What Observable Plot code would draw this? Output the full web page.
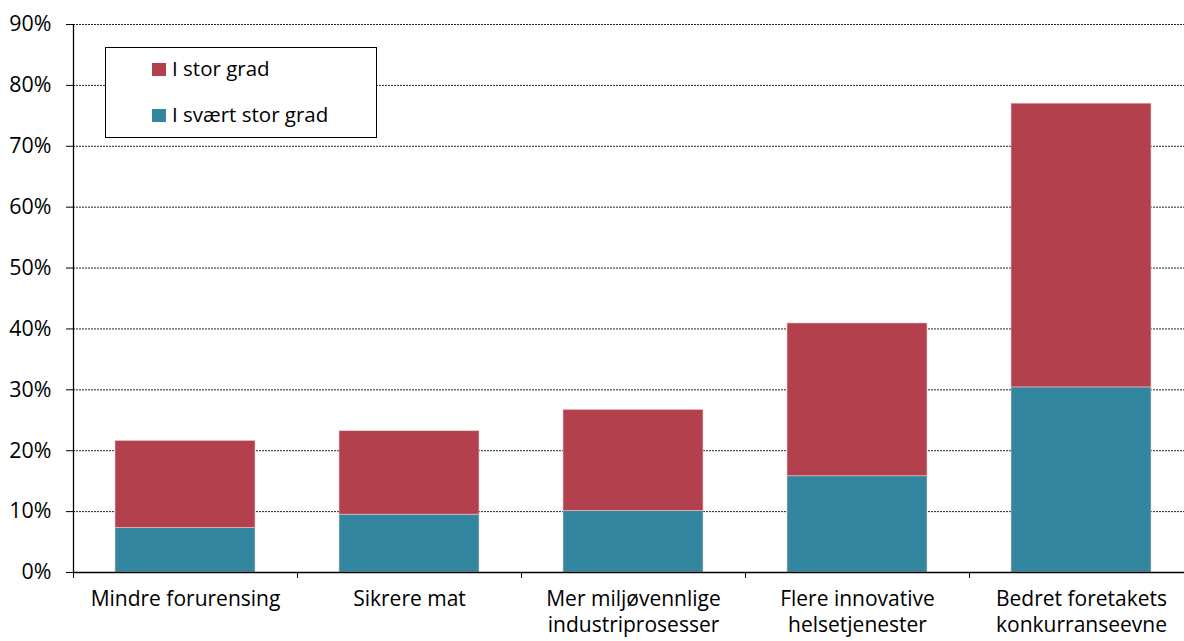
<!DOCTYPE html>
<html>
<head>
<meta charset="utf-8">
<script src="https://cdn.jsdelivr.net/npm/d3@7"></script>
<script src="https://cdn.jsdelivr.net/npm/@observablehq/plot@0.6"></script>
<style>
  html, body { margin: 0; padding: 0; background: #fff; overflow: hidden; }
  #wrap { position: relative; width: 1184px; height: 641px; overflow: hidden; }
  #wrap svg { max-width: none !important; display: block; }
  #legend {
    position: absolute; left: 105px; top: 47px; width: 272px; height: 91px;
    border: 1px solid #000; background: #fff; box-sizing: border-box;
    font-family: "Open Sans", sans-serif; font-size: 20.5px; color: #000;
  }
  .lt { position: absolute; left: 66px; line-height: 20.5px; white-space: nowrap; }
  .sw { position: absolute; left: 46px; width: 14px; height: 13px; }
</style>
</head>
<body>
<div id="wrap"></div>
<script>
const categories = ["Mindre forurensing", "Sikrere mat", "Mer miljøvennlige\nindustriprosesser", "Flere innovative\nhelsetjenester", "Bedret foretakets\nkonkurranseevne"];
const series = ["I svært stor grad", "I stor grad"];
const sværtStor = [7.3, 9.5, 10.1, 15.8, 30.4];
const stor = [14.3, 13.7, 16.6, 25.1, 46.6];
const colors = ["#32869d", "#b2414d"];
const yTicks = [0, 10, 20, 30, 40, 50, 60, 70, 80, 90];

const data = [];
categories.forEach((c, i) => {
  data.push({cat: c, series: series[0], value: sværtStor[i]});
  data.push({cat: c, series: series[1], value: stor[i]});
});

const W = 1193, H = 641, mL = 73, mR = 0, mT = 24, mB = 69;
const half = (W - mL - mR) / categories.length / 2;
const FS = 21.4, FSX = 21;

const chart = Plot.plot({
  width: W, height: H,
  marginLeft: mL, marginRight: mR, marginTop: mT, marginBottom: mB,
  style: {fontFamily: "'Open Sans', sans-serif", fontSize: FS + "px", color: "#000", background: "#fff", maxWidth: "none"},
  x: {domain: categories, paddingInner: 0, paddingOuter: 0, label: null},
  y: {domain: [0, 90], label: null},
  color: {domain: series, range: colors},
  marks: [
    Plot.ruleY(yTicks.filter(d => d > 0), {stroke: "#222", strokeWidth: 1, strokeDasharray: "2,1"}),
    Plot.barY(data, Plot.stackY({x: "cat", y: "value", fill: "series", order: series, stroke: "#f0c8cc", strokeWidth: 0.6, insetLeft: 42, insetRight: 42})),
    Plot.axisY({ticks: yTicks, tickFormat: d => d + "%", tickSize: 7, tickPadding: 15, fontSize: FS, stroke: "#000"}),
    Plot.ruleY([0], {stroke: "#000", strokeWidth: 1.3}),
    Plot.axisX({tickSize: 6, dx: -half, text: null, stroke: "#000"}),
    Plot.axisX({tickSize: 0, tickPadding: 14, fontSize: FSX, lineHeight: 1.28, textAnchor: "middle"}),
  ]
});

const wrap = document.getElementById("wrap");
wrap.appendChild(chart);
const svg = d3.select(chart);
svg.append("line").attr("x1", mL + 0.5).attr("x2", mL + 0.5).attr("y1", mT).attr("y2", H - mB).attr("stroke", "#000").attr("stroke-width", 1.3);

const legend = document.createElement("div");
legend.id = "legend";
legend.innerHTML = `
  <div class="sw" style="top:15px;background:${colors[1]}"></div><div class="lt" style="top:10px">${series[1]}</div>
  <div class="sw" style="top:61px;background:${colors[0]}"></div><div class="lt" style="top:56px">${series[0]}</div>`;
wrap.appendChild(legend);
</script>
</body>
</html>
